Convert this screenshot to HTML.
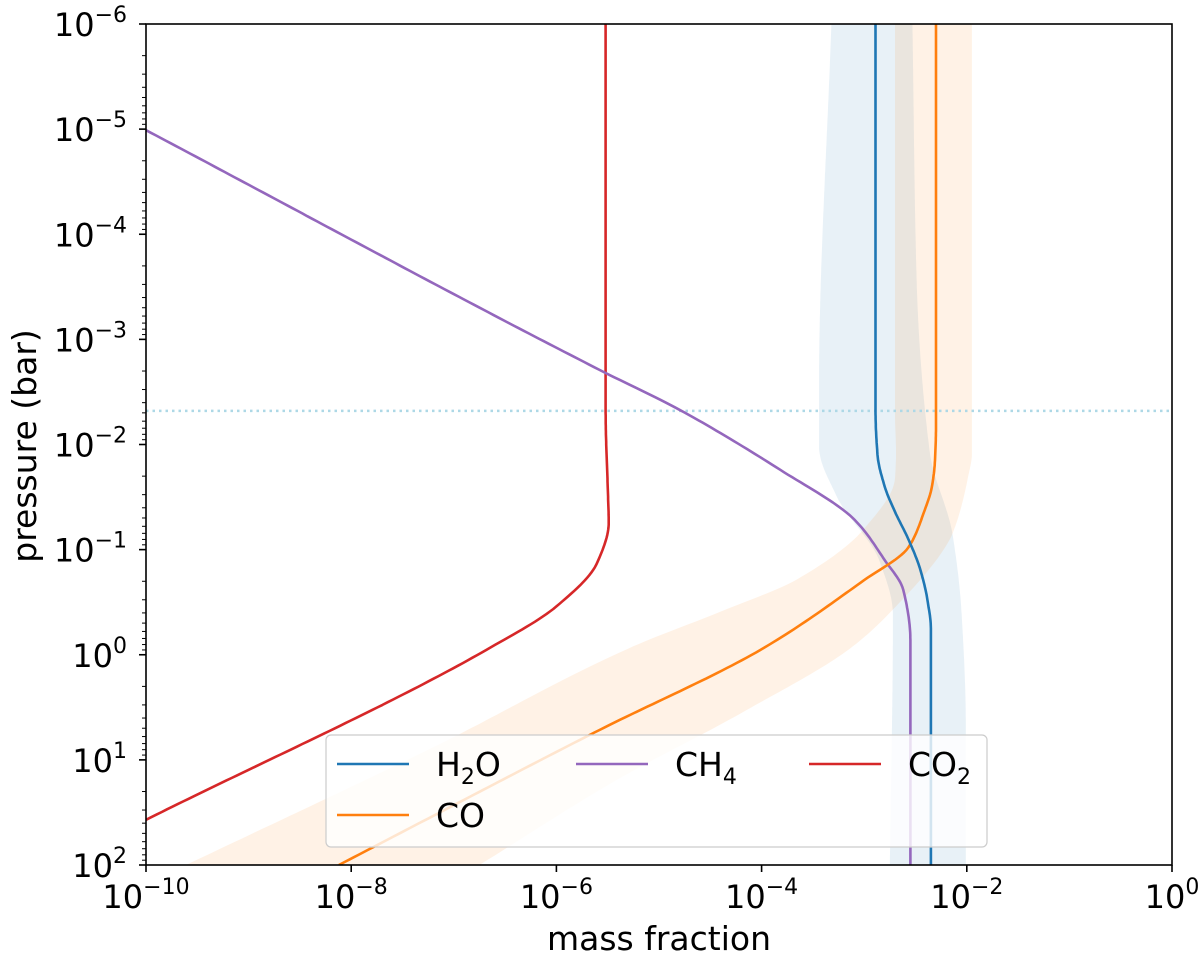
<!DOCTYPE html>
<html><head><meta charset="utf-8"><style>
html,body{margin:0;padding:0;background:#fff;}
svg{display:block;font-family:"DejaVu Sans","Liberation Sans",sans-serif;}
</style></head><body>
<svg id="chart" width="1200" height="958" viewBox="0 0 1200 958">
<g id="bands"></g>
<g id="lines"></g>
<g id="axes"></g>
<g id="legend"></g>
</svg>
<script>
// data in log10 units: lp = log10(pressure/bar), lx = log10(mass fraction)
const h2oP = [-6,-2.34,-1.9,-1.6,-1.36,-1.1,-0.8,-0.5,-0.25,2];
const h2oX = [-2.89,-2.89,-2.87,-2.80,-2.70,-2.57,-2.45,-2.38,-2.35,-2.35];
const coP = [-6,-2.2,-1.85,-1.6,-1.35,-1.02,-0.71,-0.07,0.74,2];
const coX = [-2.30,-2.30,-2.31,-2.34,-2.42,-2.57,-3.00,-3.97,-5.63,-8.12];
const ch4P = [-4.99,-2.71,-2.33,-1.76,-1.28,-0.90,-0.62,-0.14,2];
const ch4X = [-10,-5.58,-4.80,-3.82,-3.09,-2.80,-2.62,-2.55,-2.55];
const co2P = [-6,-2.3,-1.6,-1.26,-0.88,-0.46,-0.07,1.57];
const co2X = [-5.52,-5.52,-5.50,-5.49,-5.60,-6.0,-6.64,-10.0];
const coBandUpP = [-6,-2.3,-1.92,-1.68,-1.20,-0.72,-0.41,-0.08,0.87,2];
const coBandUpX = [-2.70,-2.70,-2.69,-2.70,-3.00,-3.65,-4.40,-5.25,-7.18,-9.61];
const coBandLoP = [-6,-1.92,-1.68,-1.15,-1.04,-0.41,-0.08,0.55,1.19,2];
const coBandLoX = [-1.95,-1.95,-1.99,-2.14,-2.20,-2.74,-3.11,-4.19,-5.41,-6.75];
const h2oBandLP = [-6,-2.55,-1.98,-1.51,-0.89,-0.38,2];
const h2oBandLX = [-3.32,-3.44,-3.44,-3.27,-2.85,-2.72,-2.75];
const h2oBandRP = [-6,-3.6,-1.92,-1.15,-0.38,0.66,2];
const h2oBandRX = [-2.53,-2.49,-2.36,-2.14,-2.05,-2.01,-2.01];
const refLineP = -2.32;
const xTicks = [-10,-8,-6,-4,-2,0];
const yTicks = [-6,-5,-4,-3,-2,-1,0,1,2];
const yTickLabels = ["−6","−5","−4","−3","−2","−1","0","1","2"];
const xTickLabels = ["−10","−8","−6","−4","−2","0"];

const L=146,R=1172,T=24,B=865;
const X = v => L + (v+10)/10*(R-L);
const Y = v => T + (v+6)/8*(B-T);
const NS="http://www.w3.org/2000/svg";
function mk(tag,attrs,parent){const e=document.createElementNS(NS,tag);for(const k in attrs)e.setAttribute(k,attrs[k]);parent.appendChild(e);return e;}
// monotone cubic (Fritsch-Carlson) of lx as a function of lp, densely sampled
function dense(P,Xs){
 const n=P.length,d=[],m=new Array(n);
 for(let i=0;i<n-1;i++)d.push((Xs[i+1]-Xs[i])/(P[i+1]-P[i]));
 m[0]=d[0];m[n-1]=d[n-2];
 for(let i=1;i<n-1;i++){ if(d[i-1]*d[i]<=0)m[i]=0; else {const h0=P[i]-P[i-1],h1=P[i+1]-P[i];const w1=2*h1+h0,w2=h1+2*h0;m[i]=(w1+w2)/(w1/d[i-1]+w2/d[i]);}}
 const out=[];
 for(let i=0;i<n-1;i++){const h=P[i+1]-P[i];const steps=Math.max(4,Math.ceil(h*40));
  for(let s=0;s<steps;s++){const t=s/steps,t2=t*t,t3=t2*t;
   const v=(2*t3-3*t2+1)*Xs[i]+(t3-2*t2+t)*h*m[i]+(-2*t3+3*t2)*Xs[i+1]+(t3-t2)*h*m[i+1];
   out.push([X(v),Y(P[i]+t*h)]);}}
 out.push([X(Xs[n-1]),Y(P[n-1])]);return out;}
const toD=p=>"M"+p.map(q=>q[0].toFixed(1)+","+q[1].toFixed(1)).join(" L");
const svg=document.getElementById('chart');
const defs=mk('defs',{},svg);
const cp=mk('clipPath',{id:'clip'},defs);mk('rect',{x:L,y:T,width:R-L,height:B-T},cp);
const bands=document.getElementById('bands');bands.setAttribute('clip-path','url(#clip)');
function band(P1,X1,P2,X2,color,name){
 const a=dense(P1,X1),b=dense(P2,X2).reverse();
 const e=mk('path',{d:toD(a.concat(b))+" Z",fill:color,'fill-opacity':0.1,stroke:'none'},bands);
 
 
}
band(h2oBandLP,h2oBandLX,h2oBandRP,h2oBandRX,'#1f77b4','h2o-band');
band(coBandUpP,coBandUpX,coBandLoP,coBandLoX,'#ff7f0e','co-band');
const lines=document.getElementById('lines');lines.setAttribute('clip-path','url(#clip)');
const ref=mk('line',{x1:L,x2:R,y1:Y(refLineP),y2:Y(refLineP),stroke:'#add8e6','stroke-width':2.5,'stroke-dasharray':'2.5,4'},lines);


function line(P,Xs,color,name){const e=mk('path',{d:toD(dense(P,Xs)),fill:'none',stroke:color,'stroke-width':2.6,'stroke-linejoin':'round'},lines);
 
 }
line(co2P,co2X,'#d62728','co2-line');
line(ch4P,ch4X,'#9467bd','ch4-line');
line(coP,coX,'#ff7f0e','co-line');
line(h2oP,h2oX,'#1f77b4','h2o-line');
const ax=document.getElementById('axes');
const fr=mk('rect',{x:L,y:T,width:R-L,height:B-T,fill:'none',stroke:'#000','stroke-width':1.6},ax);


xTicks.forEach((v,i)=>{
 mk('line',{x1:X(v),x2:X(v),y1:B,y2:B+7,stroke:'#000','stroke-width':1.6},ax);
 const t=mk('text',{x:X(v),y:908,'font-size':32,'text-anchor':'middle'},ax);
 
 
 t.innerHTML='10<tspan dy="-14" font-size="22">'+xTickLabels[i]+'</tspan>';
});
yTicks.forEach((v,i)=>{
 mk('line',{x1:L-7,x2:L,y1:Y(v),y2:Y(v),stroke:'#000','stroke-width':1.6},ax);
 if(i<yTicks.length-1){for(let m=2;m<10;m++){const yy=Y(v+Math.log10(m));mk('line',{x1:L-4,x2:L,y1:yy,y2:yy,stroke:'#000','stroke-width':1},ax);}}
 const t=mk('text',{x:127,y:Y(v)+12,'font-size':32,'text-anchor':'end'},ax);
 
 
 t.innerHTML='10<tspan dy="-14" font-size="22">'+yTickLabels[i]+'</tspan>';
});
const xl=mk('text',{x:659,y:950,'font-size':33,'text-anchor':'middle'},ax);xl.textContent='mass fraction';


const yl=mk('text',{x:0,y:0,'font-size':33,'text-anchor':'middle',transform:'translate(36,446) rotate(-90)'},ax);yl.textContent='pressure (bar)';


const lg=document.getElementById('legend');
mk('rect',{x:326,y:735,width:661,height:112,rx:5,fill:'#fff','fill-opacity':0.8,stroke:'#ccc','stroke-width':1.2},lg);
const entries=[[337,764,'#1f77b4','H<tspan dy="8" font-size="22">2</tspan><tspan dy="-8">O</tspan>','legend-h2o'],
[576,764,'#9467bd','CH<tspan dy="8" font-size="22">4</tspan>','legend-ch4'],
[809,764,'#d62728','CO<tspan dy="8" font-size="22">2</tspan>','legend-co2'],
[337,815,'#ff7f0e','CO','legend-co']];
entries.forEach(e=>{const g=mk('g',{},lg);
 
 
 mk('line',{x1:e[0],x2:e[0]+72,y1:e[1],y2:e[1],stroke:e[2],'stroke-width':2.6},g);
 const t=mk('text',{x:e[0]+99,y:e[1]+12,'font-size':33},g);t.innerHTML=e[3];});
</script>
</body></html>
